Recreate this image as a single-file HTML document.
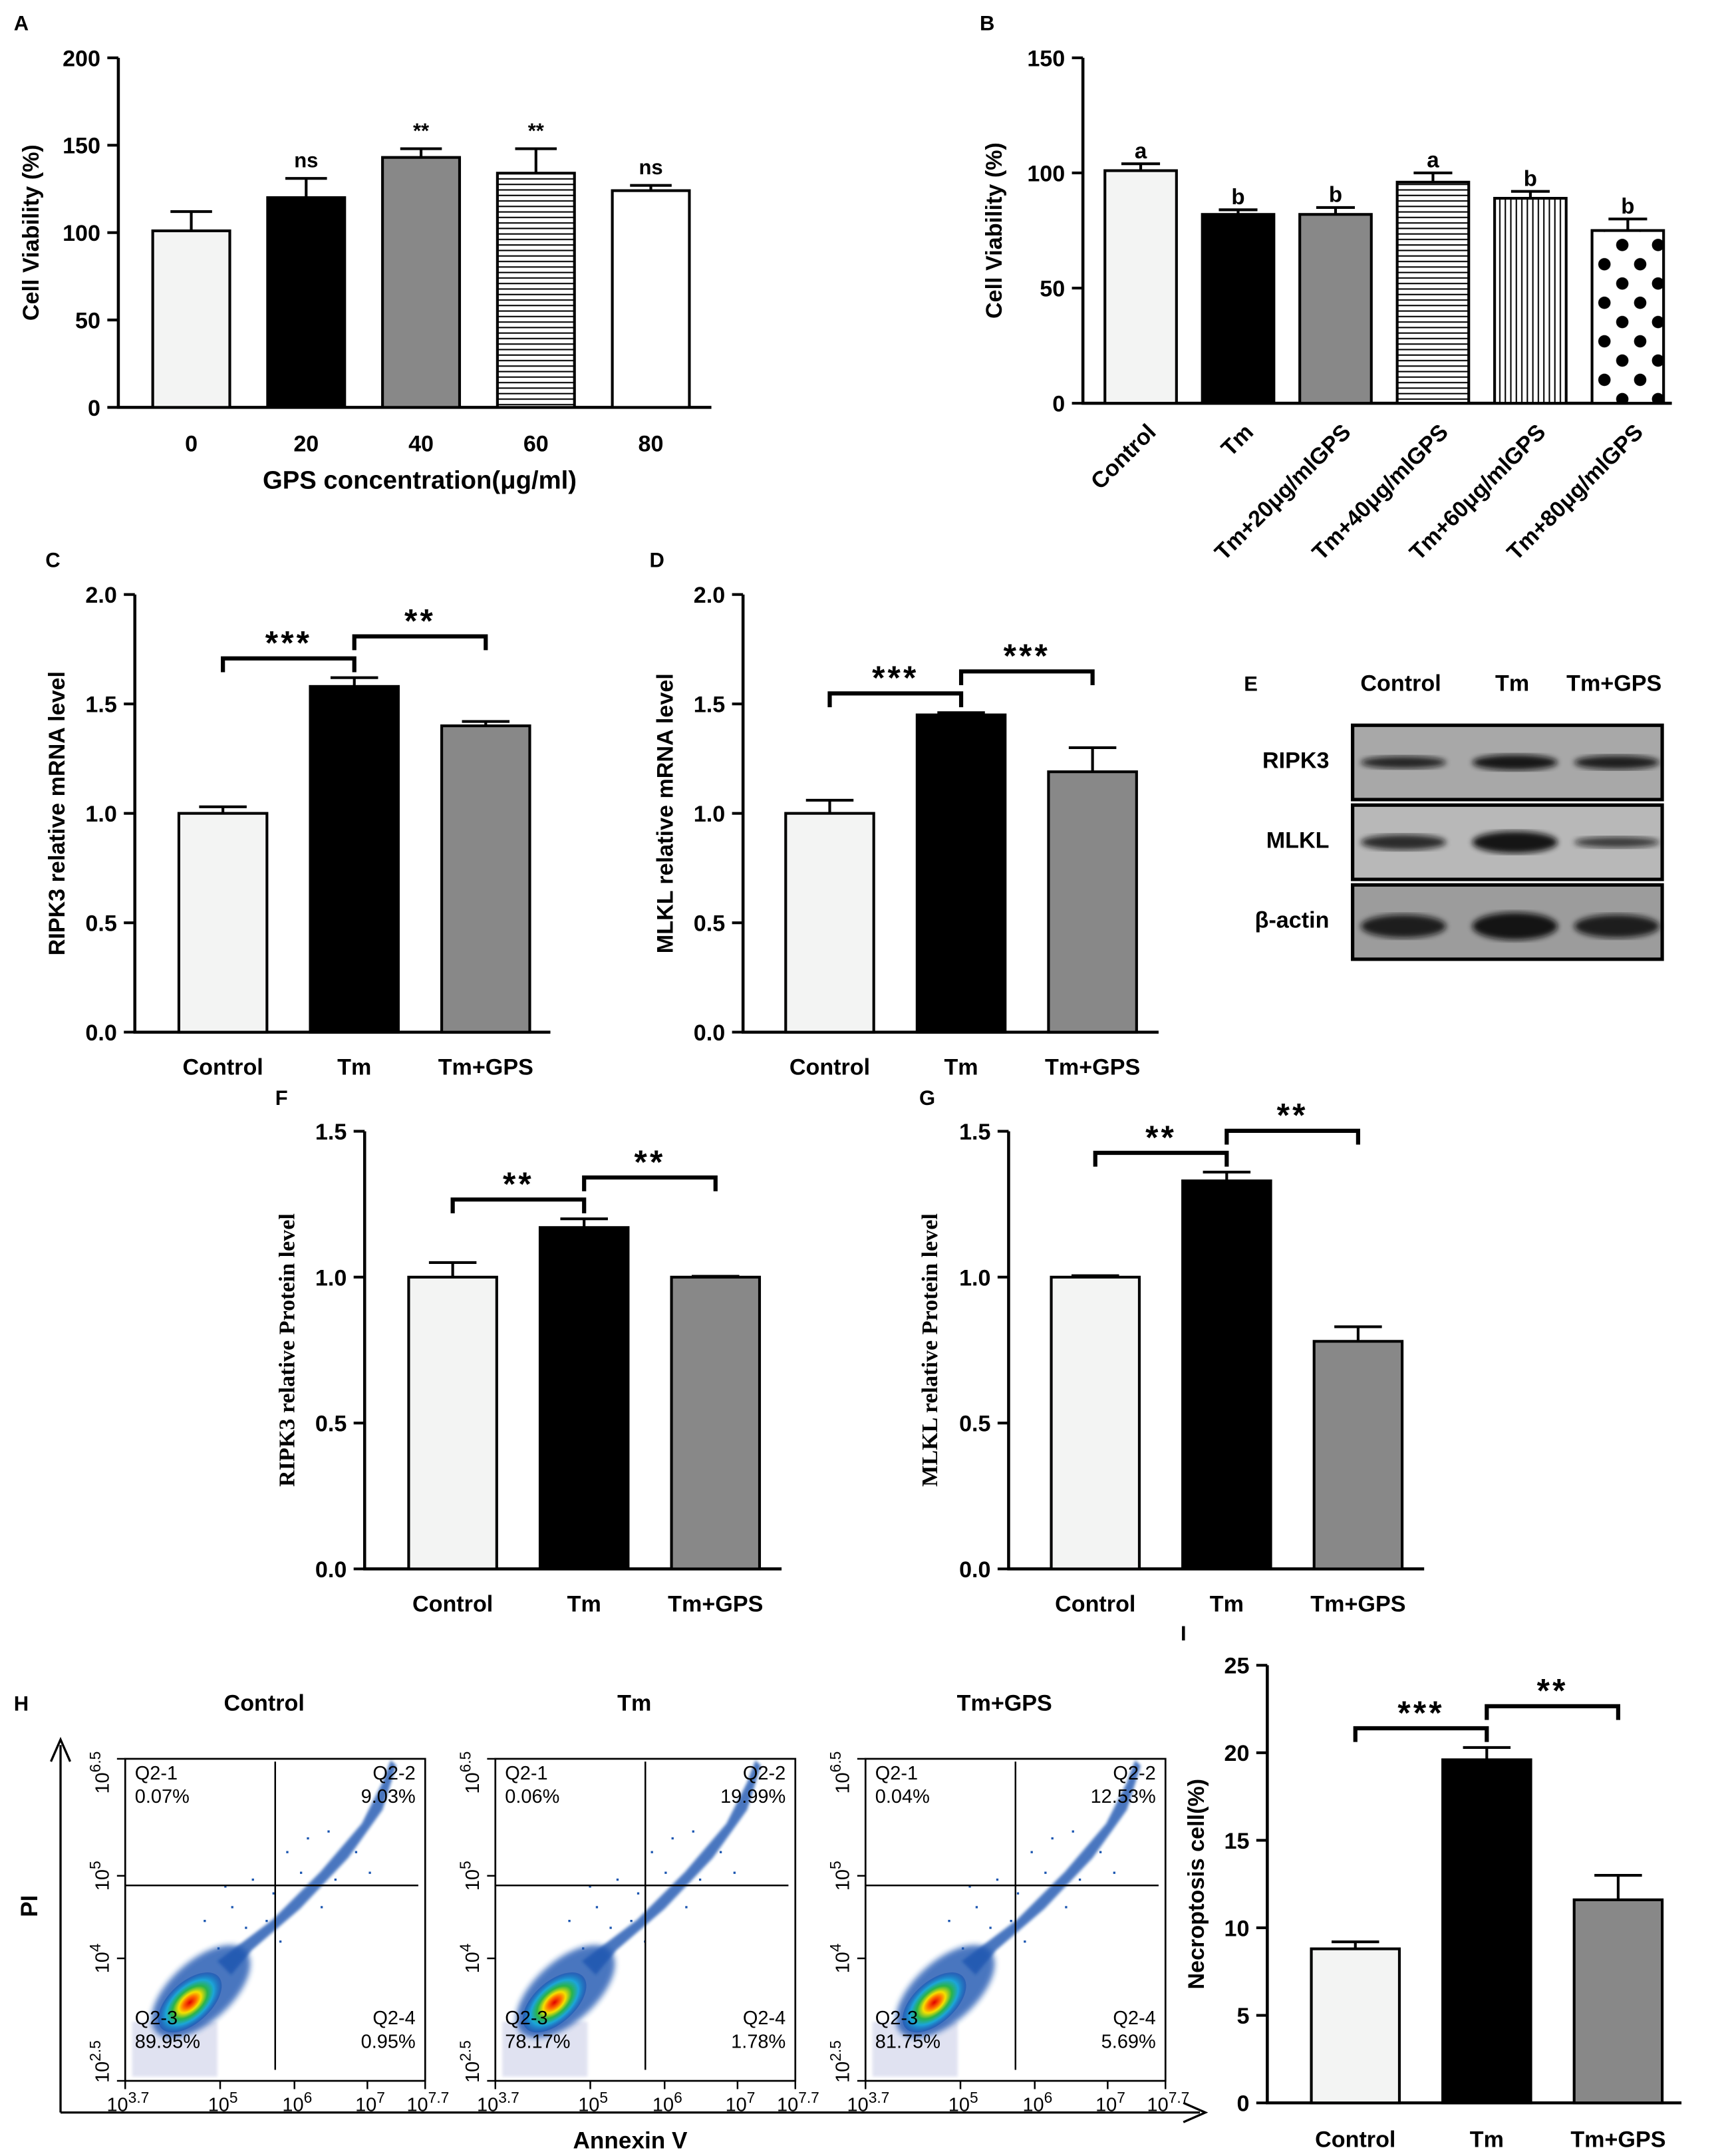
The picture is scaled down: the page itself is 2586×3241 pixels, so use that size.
<!DOCTYPE html>
<html><head><meta charset="utf-8">
<style>
html,body{margin:0;padding:0;background:#fff;}
svg{display:block;font-family:"Liberation Sans",Arial,sans-serif;}
</style></head>
<body>
<svg id="fig" width="2586" height="3241" viewBox="0 0 1250 1566.6" xmlns="http://www.w3.org/2000/svg">
<defs>
<pattern id="hlines" width="6" height="4" patternUnits="userSpaceOnUse"><rect width="6" height="4" fill="#fff"/><line x1="0" y1="2" x2="6" y2="2" stroke="#000" stroke-width="1"/></pattern>
<pattern id="vlines" width="4" height="6" patternUnits="userSpaceOnUse"><rect width="4" height="6" fill="#fff"/><line x1="2" y1="0" x2="2" y2="6" stroke="#000" stroke-width="1"/></pattern>
<pattern id="dots" width="26" height="28" patternUnits="userSpaceOnUse" x="3" y="4"><rect width="26" height="28" fill="#fff"/><circle cx="6" cy="6" r="4.5" fill="#000"/><circle cx="19" cy="20" r="4.5" fill="#000"/></pattern>
<radialGradient id="core">
<stop offset="0" stop-color="#e00000"/><stop offset="0.2" stop-color="#ff6a00"/><stop offset="0.35" stop-color="#f5e000"/><stop offset="0.55" stop-color="#29b34a"/><stop offset="0.75" stop-color="#1ca6d8"/><stop offset="1" stop-color="#1550b0" stop-opacity="0.6"/>
</radialGradient>
<filter id="blur2"><feGaussianBlur stdDeviation="2"/></filter>
<filter id="blur1"><feGaussianBlur stdDeviation="1"/></filter>
</defs>
<g id="root"></g>
</svg>
<script>
// ---------- data ----------
const catsA = ["0","20","40","60","80"];
const valsA = [101,120,143,134,124];
const errsA = [11,11,5,14,3];
const sigA = ["","ns","**","**","ns"];
const ticksA = [0,50,100,150,200];

const catsB = ["Control","Tm","Tm+20μg/mlGPS","Tm+40μg/mlGPS","Tm+60μg/mlGPS","Tm+80μg/mlGPS"];
const valsB = [101,82,82,96,89,75];
const errsB = [3,2,3,4,3,5];
const sigB = ["a","b","b","a","b","b"];
const ticksB = [0,50,100,150];

const cats3 = ["Control","Tm","Tm+GPS"];
const valsC = [1.0,1.58,1.40];
const errsC = [0.03,0.04,0.02];
const starsC = ["***","**"];
const ticksC = [0,0.5,1.0,1.5,2.0];

const valsD = [1.0,1.45,1.19];
const errsD = [0.06,0.01,0.11];
const starsD = ["***","***"];

const valsF = [1.0,1.17,1.0];
const errsF = [0.05,0.03,0.003];
const starsF = ["**","**"];
const ticksF = [0,0.5,1.0,1.5];

const valsG = [1.0,1.33,0.78];
const errsG = [0.005,0.03,0.05];
const starsG = ["**","**"];

const valsI = [8.8,19.6,11.6];
const errsI = [0.4,0.7,1.4];
const starsI = ["***","**"];
const ticksI = [0,5,10,15,20,25];

const flowTitles = ["Control","Tm","Tm+GPS"];
const q1 = ["0.07%","0.06%","0.04%"];
const q2 = ["9.03%","19.99%","12.53%"];
const q3 = ["89.95%","78.17%","81.75%"];
const q4 = ["0.95%","1.78%","5.69%"];

// ---------- helpers ----------
const NS = "http://www.w3.org/2000/svg";
const root = document.getElementById("root");
function mk(tag, attrs, parent){
  const e = document.createElementNS(NS, tag);
  for (const k in attrs) e.setAttribute(k, attrs[k]);
  (parent||root).appendChild(e);
  return e;
}
function txt(str, attrs, parent){
  const t = mk("text", attrs, parent);
  t.textContent = str;
  return t;
}
const B = "bold";

function barChart(o){
  const g = mk("g", {});
  
  
  const ys = v => o.yBot - (v / o.max) * (o.yBot - o.yTop);
  const ya = mk("line",{x1:o.x0,y1:o.yTop,x2:o.x0,y2:o.yBot,stroke:"#000","stroke-width":2.2},g);
  
  
  const xa = mk("line",{x1:o.x0-1,y1:o.yBot,x2:o.xEnd,y2:o.yBot,stroke:"#000","stroke-width":2.2},g);
  
  
  o.ticks.forEach(t=>{
    const y = ys(t);
    const tl = mk("line",{x1:o.x0-8,y1:y,x2:o.x0,y2:y,stroke:"#000","stroke-width":2},g);
    
    
    const lb = txt(o.fmt?t.toFixed(1):String(t),{x:o.x0-13,y:y+6,"text-anchor":"end","font-size":16.5,"font-weight":B},g);
    
    
  });
  const centers = [];
  o.vals.forEach((v,i)=>{
    const cx = o.c0 + i*o.step;
    centers.push(cx);
    const top = ys(v);
    const r = mk("rect",{x:cx-o.bw/2,y:top,width:o.bw,height:o.yBot-top,fill:o.fills[i],stroke:"#000","stroke-width":2},g);
    
    
    const et = ys(v+o.errs[i]);
    const el = mk("line",{x1:cx,y1:top,x2:cx,y2:et,stroke:"#000","stroke-width":2},g);
    
    
    const ec = mk("line",{x1:cx-o.bw*0.27,y1:et,x2:cx+o.bw*0.27,y2:et,stroke:"#000","stroke-width":2},g);
    
    
    if (o.sig && o.sig[i]) {
      const s = txt(o.sig[i],{x:cx,y:et-(o.sigGap||6),"text-anchor":"middle","font-size":o.sigSize||16,"font-weight":B},g);
      
      
    }
    if (o.rotLabels){
      const lx = cx+12, ly = o.yBot+22;
      const l = txt(o.cats[i],{x:lx,y:ly,"text-anchor":"end","font-size":16.5,"font-weight":B,transform:`rotate(-45 ${lx} ${ly})`},g);
      
      
    } else {
      const l = txt(o.cats[i],{x:cx,y:o.yBot+(o.labGap||31),"text-anchor":"middle","font-size":16.5,"font-weight":B},g);
      
      
    }
  });
  if (o.stars){
    const tmTop = ys(o.vals[1]+o.errs[1]);
    o.stars.forEach((s,k)=>{
      const y = tmTop - 14 - k*16;
      const a = centers[k], b = centers[k+1];
      const br = mk("path",{d:`M${a},${y+10}V${y}H${b}V${y+10}`,fill:"none",stroke:"#000","stroke-width":3},g);
      
      
      const st = txt(s,{x:(a+b)/2,y:y-3,"text-anchor":"middle","font-size":24,"font-weight":B,"letter-spacing":2},g);
      
      
    });
  }
  const ty = (o.yTop+o.yBot)/2;
  const yt = txt(o.ytitle,{x:o.ytx,y:ty,"text-anchor":"middle","font-size":16.5,"font-weight":B,
    "font-family":o.serif?'"Liberation Serif",serif':'"Liberation Sans",sans-serif',transform:`rotate(-90 ${o.ytx} ${ty})`},g);
  
  
  const pl = txt(o.letter,{x:o.lx,y:o.ly,"font-size":15,"font-weight":B},g);
  
  
  return g;
}

const LIGHT = "#f3f4f3", GRAY = "#888888";

barChart({name:"panel-a-chart",letter:"A",lx:10,ly:22,x0:86,xEnd:517,yTop:42,yBot:296,max:200,ticks:ticksA,
  c0:139,step:83.5,bw:56,vals:valsA,errs:errsA,cats:catsA,sig:sigA,sigGap:8,sigSize:15,
  fills:[LIGHT,"#000",GRAY,"url(#hlines)","#fff"],ytitle:"Cell Viability (%)",ytx:28,labGap:32});
const xtA = txt("GPS concentration(μg/ml)",{x:305,y:355,"text-anchor":"middle","font-size":18.5,"font-weight":B});



barChart({name:"panel-b-chart",letter:"B",lx:712,ly:22,x0:787,xEnd:1215,yTop:42,yBot:293,max:150,ticks:ticksB,
  c0:829,step:70.8,bw:52,vals:valsB,errs:errsB,cats:catsB,sig:sigB,sigGap:4,sigSize:16,rotLabels:true,
  fills:[LIGHT,"#000",GRAY,"url(#hlines)","url(#vlines)","url(#dots)"],ytitle:"Cell Viability (%)",ytx:728});

barChart({name:"panel-c-chart",letter:"C",lx:33,ly:412,x0:98,xEnd:400,yTop:432,yBot:750,max:2,ticks:ticksC,fmt:true,
  c0:162,step:95.5,bw:64,vals:valsC,errs:errsC,cats:cats3,stars:starsC,
  fills:[LIGHT,"#000",GRAY],ytitle:"RIPK3 relative mRNA level",ytx:47});

barChart({name:"panel-d-chart",letter:"D",lx:472,ly:412,x0:540,xEnd:842,yTop:432,yBot:750,max:2,ticks:ticksC,fmt:true,
  c0:603,step:95.5,bw:64,vals:valsD,errs:errsD,cats:cats3,stars:starsD,
  fills:[LIGHT,"#000",GRAY],ytitle:"MLKL relative mRNA level",ytx:489});

barChart({name:"panel-f-chart",letter:"F",lx:200,ly:803,x0:265,xEnd:568,yTop:822,yBot:1140,max:1.5,ticks:ticksF,fmt:true,
  c0:329,step:95.5,bw:64,vals:valsF,errs:errsF,cats:cats3,stars:starsF,serif:true,
  fills:[LIGHT,"#000",GRAY],ytitle:"RIPK3 relative Protein level",ytx:214});

barChart({name:"panel-g-chart",letter:"G",lx:668,ly:803,x0:733,xEnd:1035,yTop:822,yBot:1140,max:1.5,ticks:ticksF,fmt:true,
  c0:796,step:95.5,bw:64,vals:valsG,errs:errsG,cats:cats3,stars:starsG,serif:true,
  fills:[LIGHT,"#000",GRAY],ytitle:"MLKL relative Protein level",ytx:681});

barChart({name:"panel-i-chart",letter:"I",lx:858,ly:1192,x0:921,xEnd:1222,yTop:1210,yBot:1528,max:25,ticks:ticksI,
  c0:985,step:95.5,bw:64,vals:valsI,errs:errsI,cats:cats3,stars:starsI,labGap:32,
  fills:[LIGHT,"#000",GRAY],ytitle:"Necroptosis cell(%)",ytx:875});

// ---------- Panel E: western blot ----------
(function(){
  const g = mk("g",{});
  
  
  const pl = txt("E",{x:904,y:502,"font-size":15,"font-weight":B},g);
  
  
  const heads = ["Control","Tm","Tm+GPS"], hx = [1018,1099,1173];
  heads.forEach((h,i)=>{
    const t = txt(h,{x:hx[i],y:502,"text-anchor":"middle","font-size":16.5,"font-weight":B},g);
    
    
  });
  const rows = ["RIPK3","MLKL","β-actin"], ry = [527,585,643];
  const bandW = [[0.75,0.95,0.85],[0.7,1.0,0.5],[0.85,1.0,0.85]];
  const bandH = [6,8,10];
  const bg = ["#a8a8a8","#b8b8b8","#9c9c9c"];
  rows.forEach((r,k)=>{
    const t = txt(r,{x:966,y:ry[k]+31,"text-anchor":"end","font-size":16.5,"font-weight":B},g);
    
    
    const bx = mk("rect",{x:983,y:ry[k],width:225,height:54,fill:bg[k],stroke:"#000","stroke-width":2.5},g);
    
    
    hx.forEach((x,i)=>{
      const b = mk("ellipse",{cx:x+2,cy:ry[k]+(k==2?30:27),rx:31,ry:bandH[k]*bandW[k][i],fill:"#111",opacity:0.5+0.45*bandW[k][i],filter:"url(#blur2)"},g);
      
      
    });
  });
})();

// ---------- Panel H: flow cytometry ----------
(function(){
  const g = mk("g",{});
  
  
  const pl = txt("H",{x:10,y:1243,"font-size":15,"font-weight":B},g);
  
  
  const ay = mk("path",{d:"M44,1535V1268M37,1280L44,1264L51,1280",fill:"none",stroke:"#000","stroke-width":1.6},g);
  
  
  const ax = mk("path",{d:"M44,1535H872M860,1528L876,1535L860,1542",fill:"none",stroke:"#000","stroke-width":1.6},g);
  
  
  const pi = txt("PI",{x:27,y:1385,"text-anchor":"middle","font-size":17,"font-weight":B,transform:"rotate(-90 27 1385)"},g);
  
  
  const an = txt("Annexin V",{x:458,y:1561,"text-anchor":"middle","font-size":17,"font-weight":B},g);
  
  

  const boxX = [91,360,629], W = 218, top = 1278, H = 234;
  const coreDx = [47,43,50];
  flowTitles.forEach((ttl,i)=>{
    const bx = boxX[i];
    const pg = mk("g",{},g);
    
    
    const tt = txt(ttl,{x:bx+101,y:1243,"text-anchor":"middle","font-size":16.5,"font-weight":B},pg);
    
    
    const lav = mk("rect",{x:bx+5,y:top+191,width:62,height:40,fill:"#d9dbee",opacity:0.8,filter:"url(#blur1)"},pg);
    
    
    const cx = bx+coreDx[i];
    const cy = top+177;
    const cloud = mk("ellipse",{cx:cx+8,cy:cy-8,rx:44,ry:22,fill:"#1a55b0",opacity:0.8,filter:"url(#blur2)",transform:`rotate(-42 ${cx+8} ${cy-8})`},pg);
    
    
    const band = mk("path",{d:`M${cx+20},${cy-30} L${cx+60},${cy-60} L${cx+95},${cy-95} L${cx+125},${cy-130} L${cx+140},${cy-160} L${cx+146},${cy-176} L${cx+150},${cy-172} L${cx+140},${cy-140} L${cx+115},${cy-105} L${cx+80},${cy-68} L${cx+45},${cy-38} L${cx+30},${cy-20} Z`,
      fill:"#1a55b0",opacity:0.8,filter:"url(#blur1)"},pg);
    
    
    const scatterPts = [[20,-40],[40,-55],[60,-80],[80,-95],[55,-60],[95,-70],[105,-90],[70,-110],[30,-70],[120,-110],[85,-120],[10,-60],[45,-90],[100,-125],[130,-95],[65,-45],[25,-85]];
    scatterPts.forEach(p=>{
      const d = mk("rect",{x:cx+p[0],y:cy+p[1],width:1.6,height:1.6,fill:"#1a55b0"},pg);
      
      
    });
    const core = mk("ellipse",{cx:cx,cy:cy,rx:28,ry:15,fill:"url(#core)",transform:`rotate(-42 ${cx} ${cy})`},pg);
    
    
    const fr = mk("rect",{x:bx,y:top,width:W,height:H,fill:"none",stroke:"#000","stroke-width":1.3},pg);
    
    
    const vg = mk("line",{x1:bx+109,y1:top+2,x2:bx+109,y2:top+H-8,stroke:"#000","stroke-width":1.2},pg);
    
    
    const hg = mk("line",{x1:bx,y1:top+92,x2:bx+W-5,y2:top+92,stroke:"#000","stroke-width":1.2},pg);
    
    
    const ql = [["Q2-1",q1[i],bx+7,top+15,"start"],["Q2-2",q2[i],bx+W-7,top+15,"end"],["Q2-3",q3[i],bx+7,top+193,"start"],["Q2-4",q4[i],bx+W-7,top+193,"end"]];
    ql.forEach(q=>{
      const a = txt(q[0],{x:q[2],y:q[3],"font-size":14,"text-anchor":q[4]},pg);
      
      
      const b = txt(q[1],{x:q[2],y:q[3]+17,"font-size":14,"text-anchor":q[4]},pg);
      
      
    });
    const xt = [["3.7",0],["5",69],["6",123],["7",176],["7.7",W]];
    xt.forEach(t=>{
      const x = bx+t[1];
      const tk = mk("line",{x1:x,y1:top+H,x2:x,y2:top+H+6,stroke:"#000","stroke-width":1.2},pg);
      
      
      const lb = mk("text",{x:x+2,y:top+H+22,"text-anchor":"middle","font-size":14},pg);
      
      
      lb.innerHTML = `10<tspan dy="-6" font-size="11">${t[0]}</tspan>`;
    });
    const yt = [["6.5",0],["5",85],["4",145],["2.5",H]];
    yt.forEach(t=>{
      const y = top+t[1];
      const tk = mk("line",{x1:bx-6,y1:y,x2:bx,y2:y,stroke:"#000","stroke-width":1.2},pg);
      
      
      const lx = bx-12;
      const yy = y+(t[1]===0?10:(t[1]===H?-14:0));
      const lb = mk("text",{x:lx,y:yy,"text-anchor":"middle","font-size":14,transform:`rotate(-90 ${lx} ${yy})`},pg);
      
      
      lb.innerHTML = `10<tspan dy="-6" font-size="11">${t[0]}</tspan>`;
    });
  });
})();
</script>
</body></html>
